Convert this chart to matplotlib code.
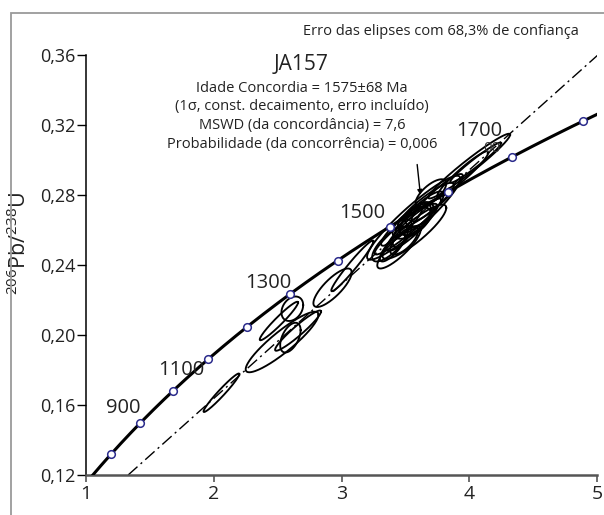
### Concordia diagram - JA157 ###
import numpy as np
import matplotlib
matplotlib.use('Agg')
import matplotlib.pyplot as plt
from matplotlib.patches import Rectangle

FONT = 'Open Sans'
plt.rcParams['font.family'] = [FONT, 'DejaVu Sans']
plt.rcParams['mathtext.default'] = 'regular'

# decay constants (1/yr)
L238 = 1.55125e-10
L235 = 9.8485e-10

# ages marked on the concordia (Ma)
marker_ages = [800, 900, 1000, 1100, 1200, 1300, 1400, 1500, 1600, 1700, 1800]
label_ages = ['900', '1100', '1300', '1500', '1700']
label_x = [1.295, 1.743, 2.424, 3.164, 4.08]
label_y = [0.1581, 0.1800, 0.2297, 0.2697, 0.3166]

# analyses: 207Pb/235U, half-width, 206Pb/238U, half-height, rho
pb207_u235 = [2.06, 2.535, 2.51, 2.60, 2.66, 2.615, 2.93, 3.085,
              3.565, 3.45, 3.55, 3.55, 3.49, 3.70, 3.625, 3.61, 3.475, 3.40, 3.75,
              4.00, 3.95, 4.05, 3.52, 3.66, 3.38, 3.57, 3.58, 3.47]
err_x = [0.14, 0.285, 0.15, 0.08, 0.18, 0.085, 0.15, 0.165,
         0.365, 0.17, 0.20, 0.15, 0.11, 0.12, 0.175, 0.11, 0.075, 0.10, 0.20,
         0.32, 0.20, 0.20, 0.26, 0.22, 0.14, 0.25, 0.12, 0.16]
pb206_u238 = [0.167, 0.196, 0.208, 0.1985, 0.2025, 0.215, 0.227, 0.2395,
              0.267, 0.250, 0.2615, 0.264, 0.254, 0.281, 0.270, 0.269, 0.258, 0.250, 0.2785,
              0.2965, 0.292, 0.2985, 0.262, 0.274, 0.252, 0.259, 0.266, 0.262]
err_y = [0.011, 0.0173, 0.011, 0.0085, 0.0115, 0.007, 0.011, 0.0145,
         0.024, 0.012, 0.0135, 0.009, 0.008, 0.008, 0.012, 0.007, 0.008, 0.008, 0.0135,
         0.0185, 0.013, 0.0115, 0.016, 0.013, 0.010, 0.0155, 0.009, 0.011]
rho = [0.97, 0.90, 0.96, 0.5, 0.95, 0.3, 0.8, 0.97,
       0.93, 0.85, 0.9, 0.6, 0.7, 0.7, 0.85, 0.5, 0.6, 0.8, 0.92,
       0.97, 0.95, 0.97, 0.95, 0.9, 0.75, 0.88, 0.65, 0.9]

# discordia (dash-dot) y = a + b*x
disc_a = 0.0332
disc_b = 0.06527

fig = plt.figure(figsize=(6.04, 5.15), dpi=100)
ax = fig.add_axes([86/604, 1 - 475/515, 511/604, 420/515])

# concordia curve
t = np.linspace(725e6, 1830e6, 400)
ax.plot(np.exp(L235*t) - 1, np.exp(L238*t) - 1, color='black', lw=2.2, zorder=3)

# discordia line
xd = np.array([1.33, 5.2])
ax.plot(xd, disc_a + disc_b*xd, color='black', lw=1.0,
        linestyle=(0, (9, 3, 1.5, 3)), zorder=2)

# error ellipses
th = np.linspace(0, 2*np.pi, 200)
for i in range(len(pb207_u235)):
    ex = pb207_u235[i] + err_x[i]*np.cos(th)
    ey = pb206_u238[i] + err_y[i]*(rho[i]*np.cos(th) + np.sqrt(1 - rho[i]**2)*np.sin(th))
    ax.plot(ex, ey, color='black', lw=1.35, zorder=2)

# age markers
ma = np.array(marker_ages)*1e6
ax.plot(np.exp(L235*ma) - 1, np.exp(L238*ma) - 1, 'o', ms=5.5, mfc='white',
        mec='#2b2b8c', mew=1.1, zorder=4)
for lab, lx, ly in zip(label_ages, label_x, label_y):
    ax.text(lx, ly, lab, fontsize=14.5, ha='center', va='center', color='#222222')
ax.text(4.18, 0.3065, '00', fontsize=11, ha='center', va='center', color='#333333')

# arrow pointing into the cluster
ax.annotate('', xy=(3.62, 0.2785), xytext=(3.59, 0.299),
            arrowprops=dict(arrowstyle='-|>', color='black', lw=1.0, mutation_scale=7))

ax.set_xlim(1, 5)
ax.set_ylim(0.12, 0.36)
ax.set_xticks([1, 2, 3, 4, 5])
ax.set_yticks([0.12, 0.16, 0.20, 0.24, 0.28, 0.32, 0.36])
ax.set_xticklabels(['1', '2', '3', '4', '5'])
ax.set_yticklabels(['0,12', '0,16', '0,20', '0,24', '0,28', '0,32', '0,36'])
ax.spines['top'].set_visible(False)
ax.spines['right'].set_visible(False)
ax.spines['left'].set_linewidth(1.1)
ax.spines['bottom'].set_color('#555555')
ax.spines['bottom'].set_linewidth(1.8)
ax.tick_params(axis='y', direction='out', length=6.5, width=1.0, labelsize=13,
               pad=1, labelcolor='#222222')
ax.tick_params(axis='x', direction='out', length=5, width=1.2, color='#555555',
               labelsize=14, pad=2, labelcolor='#222222')
ax.set_ylabel(r'$^{206}$Pb/$^{238}$U', fontsize=15.5, color='#222222')
ax.yaxis.set_label_coords(-0.107, 0.552)

# texts
fig.text(579/604, 1 - 31.5/515, 'Erro das elipses com 68,3% de confiança',
         fontsize=10.5, ha='right', va='center', color='#222222')
fig.text(301/604, 1 - 65/515, 'JA157', fontsize=15, ha='center', va='center', color='#222222')
info = ['Idade Concordia = 1575±68 Ma',
        '(1σ, const. decaimento, erro incluído)',
        'MSWD (da concordância) = 7,6',
        'Probabilidade (da concorrência) = 0,006']
for k, line in enumerate(info):
    fig.text(302/604, 1 - (88 + 18.7*k)/515, line, fontsize=10.5, ha='center',
             va='center', color='#222222')

# outer frame
fig.patches.append(Rectangle((11/604, -0.1), 1.2, (515 - 13)/515 + 0.1,
                             transform=fig.transFigure, fill=False,
                             ec='#9a9a9a', lw=1.3))

fig.savefig('out.png', dpi=100)
